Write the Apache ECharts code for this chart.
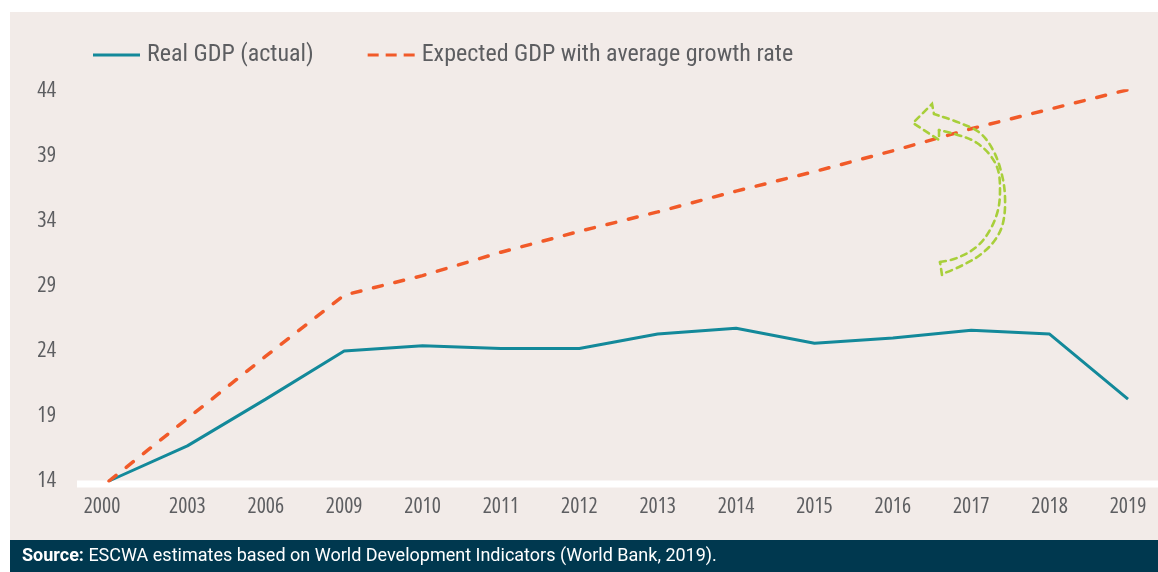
<!DOCTYPE html>
<html>
<head>
<meta charset="utf-8">
<script src="https://cdn.jsdelivr.net/npm/echarts@6/dist/echarts.min.js"></script>
<style>
html,body{margin:0;padding:0;background:#fff;}
#chart{width:1158px;height:572px;}
</style>
</head>
<body>
<div id="chart"></div>
<script>
const categories = ['2000','2003','2006','2009','2010','2011','2012','2013','2014','2015','2016','2017','2018','2019'];
const realGDP = [14.0, 16.7, 20.3, 24.0, 24.4, 24.2, 24.2, 25.3, 25.75, 24.6, 25.0, 25.6, 25.3, 20.3];
const expectedGDP = [14.0, 18.8, 23.6, 28.3, 29.8, 31.6, 33.2, 34.7, 36.3, 37.8, 39.4, 41.1, 42.6, 44.1];
const yTicks = [14, 19, 24, 29, 34, 39, 44];
const seriesNames = ['Real GDP (actual)', 'Expected GDP with average growth rate'];
const sourceLabel = 'Source:';
const sourceText = 'ESCWA estimates based on World Development Indicators (World Bank, 2019).';

const FONT = '"Open Sans", sans-serif';
const STRETCH = 'condensed';   /* font-stretch keyword passed through the weight slot */
const LEGFONT = '"Roboto Condensed", sans-serif';
const FOOTFONT = 'Roboto, sans-serif';
const GREY = '#5d5e61';
const TEAL = '#13899a';
const ORANGE = '#f15a29';
const GREEN = '#a8cf3a';
const PANEL = '#f2ebe8';
const FOOT = '#00384f';

const chart = echarts.init(document.getElementById('chart'), null, {renderer: 'canvas'});

const arrowStyle = {stroke: GREEN, lineWidth: 2.6, lineDash: [6, 5], fill: null, lineCap: 'round'};

chart.setOption({
  backgroundColor: '#ffffff',
  animation: false,
  grid: {left: 109, right: 30, top: 91, bottom: 91, containLabel: false},
  legend: {
    left: 88, top: 38,
    itemWidth: 47, itemHeight: 3, itemGap: 54,
    itemStyle: {borderWidth: 0},
    textStyle: {fontFamily: LEGFONT, fontSize: 24, color: GREY, padding: [0, 0, 0, 2]},
    data: [
      {name: seriesNames[0], icon: 'path://M0,0H47V3H0Z'},
      {name: seriesNames[1], icon: 'path://M0,0H11V3H0Z M18,0H29V3H18Z M36,0H47V3H36Z'}
    ]
  },
  xAxis: {
    type: 'category',
    data: categories,
    boundaryGap: false,
    axisLine: {show: false},
    axisTick: {show: false},
    axisLabel: {
      interval: 0,
      fontFamily: FONT, fontWeight: STRETCH, fontSize: 21.5, color: GREY, margin: 15,
      formatter: function (v, i) { return i === 0 ? '{f|' + v + '}' : v; },
      rich: {f: {fontFamily: FONT, fontWeight: STRETCH, fontSize: 21.5, color: GREY, padding: [0, 14, 0, 0]}}
    },
    splitLine: {show: false}
  },
  yAxis: {
    type: 'value',
    min: 14, max: 44,
    axisLine: {show: false},
    axisTick: {show: false},
    splitLine: {show: false},
    axisLabel: {
      customValues: yTicks,
      fontFamily: FONT, fontWeight: STRETCH, fontSize: 22, color: GREY, margin: 53
    }
  },
  series: [
    {
      name: seriesNames[0], type: 'line', data: realGDP,
      symbol: 'none', z: 3,
      lineStyle: {color: TEAL, width: 3},
      itemStyle: {color: TEAL}
    },
    {
      name: seriesNames[1], type: 'line', data: expectedGDP,
      symbol: 'none', z: 4,
      lineStyle: {color: ORANGE, width: 3.5, type: [9, 13], cap: 'round'},
      itemStyle: {color: ORANGE}
    }
  ],
  graphic: [
    {type: 'rect', z: -20, silent: true, shape: {x: 10, y: 12, width: 1148, height: 528}, style: {fill: PANEL}},
    {type: 'rect', z: -10, silent: true, shape: {x: 77, y: 480.5, width: 1081, height: 7}, style: {fill: '#ffffff'}},
    {type: 'rect', z: 10, silent: true, shape: {x: 10, y: 540, width: 1148, height: 32}, style: {fill: FOOT}},
    {type: 'text', z: 11, silent: true, x: 22, y: 556,
      style: {
        text: '{b|' + sourceLabel + '} ' + sourceText,
        fill: '#ffffff', fontFamily: FOOTFONT, fontSize: 18,
        verticalAlign: 'middle',
        rich: {b: {fontWeight: 'bold', fontFamily: FOOTFONT, fontSize: 18, fill: '#ffffff'}}
      }
    },
    /* curved arrow annotation */
    {type: 'polyline', z: 12, silent: true,
      shape: {points: [[939,130],[939,140],[913,123],[932,104],[934,114],[943,117]]},
      style: arrowStyle},
    {type: 'polyline', z: 12, silent: true,
      shape: {smooth: 0.35, points: [[943,117],[960,123],[980,133],[993,150],[1001.5,173],[1005,197],[1003,223],[995,240],[980,255],[960,266.5],[942,274]]},
      style: arrowStyle},
    {type: 'polyline', z: 12, silent: true,
      shape: {points: [[942,275],[940,262]]},
      style: arrowStyle},
    {type: 'polyline', z: 12, silent: true,
      shape: {smooth: 0.35, points: [[940,262],[957,258],[977,246.5],[990,230],[998,210],[1000,190],[998,170],[990,155],[977,143],[963,136.5],[939,130]]},
      style: arrowStyle}
  ]
});
</script>
</body>
</html>
